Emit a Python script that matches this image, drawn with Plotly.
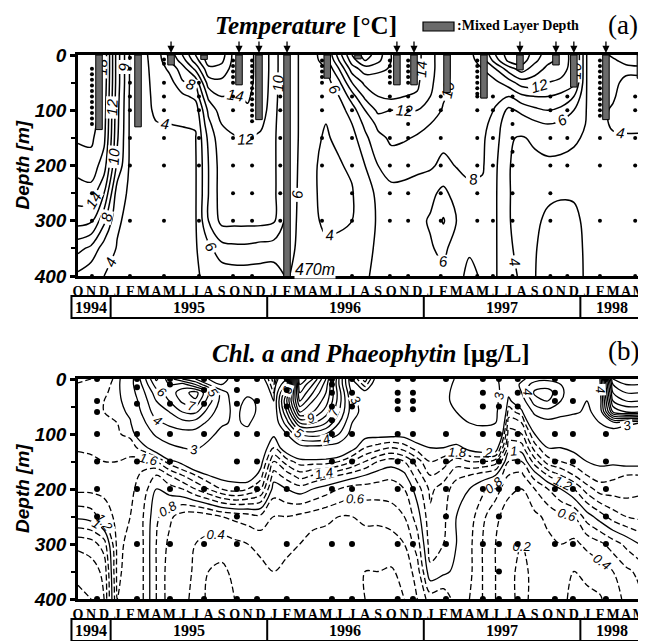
import plotly.graph_objects as go
import numpy as np

# ---------------- calendar axis (index 0 = Oct 1994) ----------------
month_letters = ["O", "N", "D"] + ["J", "F", "M", "A", "M", "J", "J", "A", "S", "O", "N", "D"] * 3 + ["J", "F", "M", "A", "M"]
month_index = list(range(len(month_letters)))
year_labels = ["1994", "1995", "1996", "1997", "1998"]
year_edges = [-0.5, 2.5, 14.5, 26.5, 38.5, 43.3]
depth_ticks = [0, 100, 200, 300, 400]
depth_minor = [50, 150, 250, 350]

# ---------------- (a) temperature [deg C], columns = months, rows = depth_T ----------------
depth_T = [0, 10, 25, 50, 75, 100, 125, 150, 200, 250, 300, 350, 400]
temp_1994 = [
    [20, 20, 20, 20, 19.8, 19.6, 19.2, 18.3, 16.8, 15, 12.8, 8.6, 5.5],
    [19.6, 19.6, 19.6, 19.5, 19.3, 19, 18.8, 18.4, 17.2, 15.2, 12.4, 7.5, 4.5],
    [17.6, 17.6, 17.6, 17.4, 17.2, 17, 16.8, 16.5, 15, 12, 8.5, 5, 4],
]
temp_1995 = [
    [9, 9, 9, 9, 8.8, 8.6, 8.5, 8.3, 7.5, 5, 4.2, 3.9, 3.8],
    [3.7, 3.7, 3.7, 3.7, 3.6, 3.6, 3.6, 3.6, 3.6, 3.6, 3.6, 3.6, 3.6],
    [3.7, 3.7, 3.7, 3.6, 3.6, 3.6, 3.5, 3.5, 3.5, 3.5, 3.5, 3.5, 3.5],
    [4.6, 4.5, 4.4, 4.4, 4.3, 4.2, 3.95, 3.8, 3.6, 3.6, 3.6, 3.6, 3.6],
    [8.6, 8, 6.5, 5, 4.6, 4.3, 4, 3.8, 3.6, 3.6, 3.6, 3.6, 3.6],
    [12, 11, 9, 7.8, 5.5, 4.6, 4.05, 3.8, 3.7, 3.7, 3.7, 3.7, 3.7],
    [16, 15, 12.5, 8.5, 6.5, 4.8, 4.1, 3.9, 3.8, 3.8, 3.8, 3.8, 3.8],
    [19.5, 19, 17.5, 15, 12.5, 10.5, 9.5, 8.5, 8, 8, 8, 5.5, 4.4],
    [19, 18.5, 17.2, 15.5, 14, 13, 12, 11.5, 11, 11, 10.6, 7.2, 4.8],
    [15.2, 15.2, 15.1, 15, 13.8, 13, 12.4, 11.9, 11, 11, 10.6, 7.5, 5],
    [14.6, 14.6, 14.6, 14.5, 14.2, 13.8, 13, 12.1, 11, 11, 10.6, 7.5, 5],
    [13.3, 13.3, 13.3, 13.3, 13.2, 13, 12.4, 11.6, 11, 11, 10.6, 7.2, 5],
]
temp_1996 = [
    [11.2, 11.2, 11.2, 11.1, 11, 10.8, 10.6, 10.5, 10.5, 10.5, 10.3, 7, 5],
    [7.6, 7.6, 7.6, 7.6, 7.6, 7.6, 7.6, 7.5, 7.5, 7.5, 7.4, 7, 6.2],
    [5.8, 5.8, 5.8, 5.8, 5.8, 5.8, 5.8, 5.8, 5.7, 5.6, 5.5, 5.4, 5.3],
    [5.2, 5.2, 5.1, 5, 4.8, 4.6, 4.4, 4.2, 4.1, 4.1, 4.2, 4.5, 5],
    [7.5, 7, 6, 5, 4.5, 4.2, 4, 3.9, 3.8, 3.8, 3.8, 4.2, 4.8],
    [13, 12, 10, 7.5, 6, 5, 4.5, 4.2, 3.9, 3.7, 3.8, 4.3, 4.9],
    [18, 17, 15, 12, 9, 7, 6, 5.2, 4.2, 3.9, 4, 4.4, 5],
    [21, 20, 17, 14.5, 12.5, 10, 8.5, 7.5, 6, 5, 5.2, 5.5, 5.8],
    [19, 18.5, 16.5, 14.8, 14, 12.5, 10.5, 9.5, 8, 6.5, 6.2, 6.3, 6.4],
    [16, 16, 15.8, 15.5, 14.5, 12, 10.8, 10.3, 9.2, 7.2, 6.8, 6.7, 6.6],
    [15.5, 15.5, 15.5, 15.3, 14, 12, 10.8, 10.2, 8.8, 7.3, 6.8, 6.7, 6.6],
    [14.5, 14.5, 14.5, 14.3, 13.8, 12, 10.6, 9.8, 8.5, 7, 6.5, 6.5, 6.5],
]
temp_1997 = [
    [12.8, 12.8, 12.8, 12.5, 12, 11, 10, 9.3, 8.3, 6.5, 5.8, 6.2, 6.4],
    [10.5, 10.5, 10.5, 10.4, 10.2, 9.8, 9.2, 8.6, 7.5, 5.5, 3.8, 5.5, 6.5],
    [9.5, 9.5, 9.5, 9.5, 9.3, 9, 8.8, 8.6, 8.1, 6.8, 6, 7, 7.5],
    [9.2, 9.2, 9.2, 9.2, 9.1, 9, 8.9, 8.8, 8.4, 7.6, 7.2, 7.8, 8.4],
    [12, 11, 10, 9.5, 9.2, 9, 8.7, 8.3, 8.2, 7.6, 7.3, 7.5, 7.8],
    [16, 15, 12, 9.5, 8.5, 7.8, 7, 6.8, 6.3, 6.2, 6.2, 6.2, 6.2],
    [19, 18.5, 15, 11, 8, 5.5, 4.6, 4.1, 4.05, 4.05, 4.05, 4.1, 4.2],
    [19.5, 19, 17, 13, 9.5, 6.5, 4.8, 3.9, 3.7, 3.7, 3.7, 3.8, 3.9],
    [17, 16.5, 15, 13, 10, 7.5, 5.5, 4.2, 3.7, 3.7, 3.8, 3.9, 3.95],
    [15, 14.5, 13.5, 12, 10, 8, 6, 4.4, 3.8, 3.8, 4.2, 4.5, 4.6],
    [13.5, 13.5, 13, 11.5, 9.5, 7.5, 5.5, 4.3, 3.8, 3.9, 4.3, 4.6, 4.7],
    [11, 11, 11, 10.5, 8, 6, 4.8, 4.1, 3.8, 3.9, 4.2, 4.4, 4.5],
]
temp_1998 = [
    [3.9, 3.9, 3.9, 3.9, 3.9, 3.9, 3.9, 3.9, 3.8, 3.8, 3.8, 3.8, 3.8],
    [3.9, 3.9, 3.9, 3.9, 3.9, 3.9, 3.9, 3.9, 3.9, 3.9, 3.9, 3.9, 3.9],
    [4.05, 3.95, 3.9, 3.9, 3.95, 4.05, 4.05, 3.95, 3.9, 3.9, 3.9, 3.9, 3.9],
    [4.3, 4.1, 3.9, 4.1, 4.2, 4.2, 4.1, 3.95, 3.9, 3.9, 3.9, 3.9, 3.9],
    [4.4, 4.2, 3.9, 4.1, 4.3, 4.3, 4.1, 3.95, 3.9, 3.9, 3.9, 3.9, 3.9],
]

# ---------------- (b) Chl a + phaeophytin [ug/L] ----------------
depth_C = [0, 10, 25, 40, 60, 80, 100, 125, 150, 175, 200, 250, 300, 350, 400]
chl_1994 = [
    [1.55, 1.62, 1.7, 1.72, 1.72, 1.7, 1.68, 1.62, 1.55, 1.5, 1.45, 1.05, 0.45, 0.25, 0.15],
    [1.6, 1.7, 1.75, 1.78, 1.78, 1.75, 1.72, 1.65, 1.55, 1.5, 1.45, 1.1, 0.5, 0.3, 0.2],
    [1.7, 1.75, 1.78, 1.8, 1.8, 1.78, 1.75, 1.68, 1.6, 1.5, 1.45, 1.3, 0.7, 0.45, 0.4],
]
chl_1995 = [
    [1.85, 1.85, 1.85, 1.85, 1.82, 1.8, 1.78, 1.7, 1.6, 1.5, 1.45, 1.45, 1.45, 1.45, 1.4],
    [2.5, 2.6, 2.5, 2.3, 2.1, 1.95, 1.85, 1.7, 1.55, 1.5, 1.45, 1.4, 1.35, 1.3, 1.3],
    [4.5, 4.2, 3.8, 3.5, 3.2, 2.8, 2.3, 1.9, 1.5, 1.35, 1.3, 1.2, 1.2, 1.2, 1.2],
    [7.2, 6.5, 5.5, 5, 4.5, 3.8, 3.2, 2.2, 1.6, 1.2, 1.0, 0.85, 0.8, 0.8, 0.8],
    [5.5, 6, 6.5, 6, 5, 4.2, 3.5, 2.8, 1.9, 1.4, 1.1, 0.65, 0.55, 0.5, 0.5],
    [4, 6.5, 7.5, 7.2, 6, 4.6, 3.6, 3, 2.1, 1.6, 1.2, 0.5, 0.45, 0.45, 0.45],
    [3, 5, 8.5, 7.8, 6.2, 4.5, 3.6, 3.1, 2.4, 1.8, 1.4, 0.45, 0.4, 0.38, 0.35],
    [2, 3, 6, 5.5, 4.5, 3.8, 3.2, 2.8, 2.4, 2, 1.6, 0.5, 0.35, 0.2, 0.15],
    [1.8, 2, 3.5, 3.6, 3.4, 3.1, 2.8, 2.5, 2.3, 2.1, 1.8, 0.6, 0.3, 0.15, 0.1],
    [2.2, 2.3, 2.4, 2.6, 2.8, 2.9, 2.7, 2.5, 2.3, 2.1, 1.9, 0.65, 0.35, 0.25, 0.2],
    [2.3, 2.5, 2.8, 3.2, 3.3, 3.1, 2.8, 2.5, 2.3, 2.2, 1.8, 0.7, 0.4, 0.3, 0.25],
    [2.2, 2.4, 2.6, 2.8, 2.8, 2.6, 2.4, 2.2, 2.1, 1.9, 1.6, 0.75, 0.45, 0.35, 0.3],
]
chl_1996 = [
    [1.5, 1.6, 1.8, 2, 2.1, 2.1, 2.05, 1.8, 1.4, 1.1, 0.9, 0.6, 0.45, 0.4, 0.4],
    [3, 4, 6, 7, 6, 4.5, 3, 2.2, 1.7, 1.3, 1.0, 0.6, 0.45, 0.35, 0.3],
    [16, 15, 14, 13, 11, 8, 5, 2.5, 1.9, 1.5, 1.1, 0.55, 0.4, 0.3, 0.3],
    [14, 13, 12, 11, 10, 8, 5.5, 2.6, 1.9, 1.4, 1.0, 0.5, 0.3, 0.25, 0.25],
    [11, 10.5, 10, 9.5, 8.5, 7, 5, 2.5, 1.9, 1.3, 0.9, 0.45, 0.3, 0.25, 0.25],
    [6, 6, 6.5, 6.5, 6, 5, 4, 2.4, 1.8, 1.2, 0.8, 0.4, 0.3, 0.25, 0.25],
    [2, 2.2, 2.8, 3.3, 3.4, 3, 2.6, 2.1, 1.6, 1.1, 0.7, 0.4, 0.3, 0.25, 0.25],
    [1.5, 1.7, 2.1, 2.4, 2.6, 2.4, 2.1, 1.8, 1.4, 1, 0.7, 0.45, 0.3, 0.2, 0.2],
    [2.2, 2.3, 2.5, 2.5, 2.5, 2.4, 2.1, 1.7, 1.2, 0.9, 0.7, 0.45, 0.3, 0.2, 0.18],
    [2.3, 2.4, 2.5, 2.5, 2.5, 2.4, 2.1, 1.6, 1.1, 0.85, 0.7, 0.5, 0.3, 0.18, 0.15],
    [2.3, 2.4, 2.5, 2.5, 2.5, 2.4, 2.1, 1.7, 1.2, 0.95, 0.8, 0.6, 0.4, 0.25, 0.2],
    [2.3, 2.4, 2.5, 2.5, 2.5, 2.4, 2.2, 1.9, 1.5, 1.3, 1.1, 0.9, 0.7, 0.5, 0.4],
]
chl_1997 = [
    [2.4, 2.4, 2.5, 2.5, 2.4, 2.3, 2.2, 2, 1.8, 1.6, 1.45, 1.35, 1.3, 1.15, 0.7],
    [2.5, 2.6, 2.8, 2.9, 2.7, 2.4, 2.2, 2, 1.7, 1.5, 1.3, 1.25, 1.2, 1.05, 0.65],
    [3.1, 3.2, 3.2, 3.1, 3, 2.7, 2.3, 1.9, 1.5, 1.25, 1.1, 1.0, 1.0, 0.95, 0.9],
    [3.3, 3.4, 3.4, 3.3, 3.2, 3, 2.6, 2.1, 1.6, 1.2, 1.0, 0.9, 0.85, 0.85, 0.8],
    [3.3, 3.4, 3.5, 3.4, 3.3, 3.1, 2.7, 2.2, 1.6, 1.1, 0.85, 0.65, 0.6, 0.6, 0.6],
    [3.2, 3.3, 3.4, 3.3, 3.2, 3.0, 2.8, 2.2, 1.5, 1.0, 0.7, 0.45, 0.4, 0.4, 0.4],
    [2.2, 2.2, 2.1, 1.9, 1.7, 1.5, 1.3, 1.1, 0.8, 0.6, 0.45, 0.3, 0.25, 0.22, 0.22],
    [2.8, 3.2, 3, 2.4, 1.9, 1.6, 1.4, 1.1, 0.8, 0.55, 0.4, 0.25, 0.2, 0.18, 0.18],
    [3.5, 4.5, 5.2, 4.5, 3.2, 2.4, 2, 1.7, 1.3, 0.9, 0.6, 0.35, 0.25, 0.22, 0.22],
    [3.8, 4.5, 5.5, 5, 3.6, 2.7, 2.2, 2, 1.7, 1.2, 0.8, 0.45, 0.35, 0.3, 0.3],
    [3.5, 4, 4.2, 4, 3.3, 2.6, 2.2, 2.0, 1.8, 1.4, 1.0, 0.55, 0.4, 0.3, 0.25],
    [3.2, 3.3, 3.4, 3.3, 3.1, 2.6, 2.2, 2.05, 1.9, 1.6, 1.2, 0.6, 0.35, 0.2, 0.15],
]
chl_1998 = [
    [3, 3.1, 3.1, 3, 2.9, 2.6, 2.3, 2.1, 2.0, 1.8, 1.5, 0.9, 0.45, 0.25, 0.15],
    [4, 3.8, 3.6, 3.4, 3.2, 3, 2.7, 2.2, 2.05, 1.9, 1.7, 1.1, 0.55, 0.3, 0.18],
    [14, 13, 12, 11, 9, 3.5, 2.5, 2.2, 2.05, 1.85, 1.7, 1.3, 0.7, 0.4, 0.3],
    [15, 14, 13, 12, 10, 3.2, 2.4, 2.2, 2.1, 1.8, 1.7, 1.4, 0.85, 0.55, 0.45],
    [15, 14, 13, 12, 10, 3, 2.4, 2.2, 2.1, 1.8, 1.65, 1.45, 1.0, 0.65, 0.55],
]

# ---------------- mixed layer depth bars and sampling arrows ----------------
mld_month = [1.61, 4.6, 7.13, 9.66, 12.34, 13.87, 16.02, 19.1, 21.46, 24.44, 25.75, 28.28, 31.11, 33.87, 36.63, 38.0, 40.46, 43.1]
mld_depth = [135, 130, 18, 8, 54, 117, 470, 42, 7, 54, 54, 68, 78, 27, 18, 58, 117, 42]
arrow_month = [7.13, 12.34, 13.87, 16.02, 24.44, 25.75, 33.87, 36.63, 38.0, 40.46]

# ---------------- sampling points ----------------
dotsA_month = [1.07, 3.98, 6.59, 9.27, 11.88, 13.34, 15.5, 18.7, 21.0, 23.9, 25.3, 27.8, 30.6, 31.8, 33.3, 36.2, 37.5, 40.0, 42.7]
dotsA_depth = [
    [25, 35, 45, 55, 65, 75, 85, 95, 105, 115, 125, 250, 300, 400],
    [5, 25, 50, 75, 100, 150, 200, 300, 400],
    [8, 16, 50, 75, 100, 150, 200, 300, 400],
    [50, 75, 100, 150, 200, 300, 400],
    [10, 20, 30, 40, 50, 75, 100, 150, 200, 250, 300, 400],
    [10, 20, 30, 40, 50, 60, 70, 80, 90, 100, 110, 120, 150, 200, 250, 300, 400],
    [75, 100, 150, 200, 250, 300],
    [10, 20, 30, 40, 50, 75, 100, 150, 200, 300, 400],
    [75, 100, 150, 200, 250, 300, 400],
    [10, 20, 30, 40, 50, 75, 100, 150, 200, 250, 300, 400],
    [10, 20, 30, 40, 50, 75, 100, 125, 150, 200, 250, 300, 400],
    [75, 100, 150, 200, 250, 300, 400],
    [10, 20, 30, 40, 50, 60, 70, 75, 100, 150, 200, 250, 300, 400],
    [75, 100, 150, 200, 300, 400],
    [75, 100, 125, 150, 175, 200, 250, 300, 400],
    [75, 100, 150, 200, 250, 300, 400],
    [75, 100, 150, 200, 400],
    [10, 20, 30, 40, 50, 60, 70, 80, 90, 100, 110, 150, 200, 300, 400],
    [75, 100, 150, 200, 300, 400],
]
dotsB_month = [1.46, 4.52, 7.05, 9.66, 12.18, 13.72, 16.0, 19.46, 21.0, 24.5, 25.67, 28.2, 31.03, 32.26, 33.7, 36.55, 37.93, 40.46, 43.2]
dotsB_depth = [
    [0, 40, 60, 100, 150, 200, 250, 400],
    [0, 15, 45, 100, 150, 200, 300, 400],
    [0, 10, 45, 100, 150, 200, 300, 400],
    [0, 20, 45, 100, 200, 300, 400],
    [0, 20, 45, 100, 150, 200, 250, 300, 400],
    [0, 40, 100, 150, 200, 400],
    [0, 20, 50, 100, 200, 300, 400],
    [0, 10, 25, 50, 75, 100, 150, 200, 300, 400],
    [0, 25, 50, 100, 150, 200, 300, 400],
    [0, 25, 40, 55, 100, 150, 200, 300, 400],
    [0, 25, 40, 55, 100, 150, 200, 300, 400],
    [0, 100, 150, 200, 250, 300, 400],
    [0, 25, 50, 100, 150, 200, 300, 400],
    [0, 50, 100, 150, 200, 250, 300, 350, 400],
    [0, 25, 50, 100, 150, 200, 300, 400],
    [0, 25, 40, 100, 150, 200, 300, 400],
    [0, 40, 100, 150, 200, 300, 400],
    [0, 100, 150, 200, 250, 300, 400],
    [0, 40, 60, 100, 150, 200, 300, 400],
]

# ================= build =================
zT = np.array(temp_1994 + temp_1995 + temp_1996 + temp_1997 + temp_1998).T
zC = np.array(chl_1994 + chl_1995 + chl_1996 + chl_1997 + chl_1998).T

# The page body has an 8 px margin, so the figure is placed 8 px right/down.
OFF = 8
W, H = 646 - OFF, 641 - OFF


def px(pix):
    return (pix - OFF) / W


def py(pix):
    return 1 - (pix - OFF) / H


X0, X1 = px(78), px(643)
XR = [0, 43.3]
A_TOP, A_BOT = 55, 276
B_TOP, B_BOT = 379, 599


def xp(m):
    return X0 + (m - XR[0]) / (XR[1] - XR[0]) * (X1 - X0)


SERIF = "Liberation Serif"
SANS = "Liberation Sans"

fig = go.Figure()

# temperature contours
fig.add_trace(go.Contour(
    x=month_index, y=depth_T, z=zT, xaxis="x", yaxis="y",
    contours=dict(start=4, end=20, size=2, coloring="none", showlabels=True,
                  labelformat=".0f",
                  labelfont=dict(family=SANS, size=15, color="black", style="italic")),
    line=dict(color="black", width=1.5, smoothing=1),
    showscale=False, hoverinfo="skip"))

# mixed layer depth bars
fig.add_trace(go.Bar(
    x=mld_month, y=mld_depth, width=0.5, xaxis="x", yaxis="y",
    marker=dict(color="#6b6b6b", line=dict(color="black", width=1)),
    hoverinfo="skip"))

# sample dots (a)
ax_x = [m for m, ds in zip(dotsA_month, dotsA_depth) for _ in ds]
ax_y = [d for ds in dotsA_depth for d in ds]
fig.add_trace(go.Scatter(x=ax_x, y=ax_y, mode="markers", xaxis="x", yaxis="y",
                         marker=dict(color="black", size=4), cliponaxis=False, hoverinfo="skip"))

# chlorophyll contours
chl_sets = [
    (0.2, 0.8, 0.2, "6px,3px", ".1f"),
    (1.0, 1.0, 1.0, "solid", ".0f"),
    (1.2, 1.8, 0.2, "6px,3px", ".1f"),
    (2, 15, 1, "solid", ".0f"),
]
for s, e, sz, dash, fmt in chl_sets:
    fig.add_trace(go.Contour(
        x=month_index, y=depth_C, z=zC, xaxis="x2", yaxis="y2",
        contours=dict(start=s, end=e, size=sz, coloring="none", showlabels=True,
                      labelformat=fmt,
                      labelfont=dict(family=SANS, size=13, color="black", style="italic")),
        line=dict(color="black", width=1.3, dash=dash, smoothing=1),
        showscale=False, hoverinfo="skip"))

bx_x = [m for m, ds in zip(dotsB_month, dotsB_depth) for _ in ds]
bx_y = [d for ds in dotsB_depth for d in ds]
fig.add_trace(go.Scatter(x=bx_x, y=bx_y, mode="markers", xaxis="x2", yaxis="y2",
                         marker=dict(color="black", size=6), cliponaxis=False, hoverinfo="skip"))

xcommon = dict(range=XR, tickmode="array", tickvals=month_index, ticktext=month_letters,
               tickfont=dict(family=SERIF, size=14, color="black", weight="bold"),
               tickangle=0, automargin=False,
               ticks="", showline=True, linewidth=2.5, linecolor="black", mirror=True,
               showgrid=False, zeroline=False, domain=[X0, X1])
ycommon = dict(range=[400, 0], tickmode="array", tickvals=depth_ticks, automargin=False,
               tickfont=dict(family=SANS, size=19, color="black", weight="bold", style="italic"),
               ticks="outside", ticklen=5, tickwidth=2.5, tickcolor="black",
               minor=dict(tickvals=depth_minor, ticks="outside", ticklen=4, tickwidth=2, tickcolor="black"),
               showline=True, linewidth=2.5, linecolor="black", mirror=True,
               showgrid=False, zeroline=False)

fig.update_layout(
    width=W, height=H, margin=dict(l=0, r=0, t=0, b=0, autoexpand=False),
    paper_bgcolor="white", plot_bgcolor="white", showlegend=False,
    xaxis=dict(**xcommon, anchor="y"),
    yaxis=dict(**ycommon, anchor="x", domain=[py(A_BOT), py(A_TOP)]),
    xaxis2=dict(**xcommon, anchor="y2"),
    yaxis2=dict(**ycommon, anchor="x2", domain=[py(B_BOT), py(B_TOP)]),
)

ann = []
shapes = []

# arrows above panel (a)
for m in arrow_month:
    ann.append(dict(x=m, y=0, xref="x", yref="y", text="", showarrow=True,
                    ax=0, ay=-15, arrowhead=2, arrowsize=1.1, arrowwidth=1.3,
                    arrowcolor="black", standoff=2))


def label(**kw):
    kw.setdefault("showarrow", False)
    kw.setdefault("xanchor", "center")
    kw.setdefault("yanchor", "middle")
    ann.append(kw)


# special labels tied to bars
ital = dict(family=SANS, size=15, color="black")
label(x=mld_month[3] + 0.45, y=-3, xref="x", yref="y", text="<i>&gt;18</i>",
      xanchor="left", font=ital, bgcolor="white", borderpad=0)
label(x=mld_month[8] + 0.0, y=-3, xref="x", yref="y", text="<i>&gt;20</i>",
      xanchor="left", font=ital, bgcolor="white", borderpad=0)
label(x=mld_month[13] - 0.45, y=-3, xref="x", yref="y", text="<i>&gt;18</i>",
      xanchor="left", font=ital, borderpad=0)
label(x=mld_month[6] + 0.55, y=388, xref="x", yref="y", text="<i>%dm</i>" % mld_depth[6],
      xanchor="left", font=dict(family=SANS, size=16, color="black"), bgcolor="white", borderpad=0)

# titles
label(x=px(306), y=py(26), xref="paper", yref="paper",
      text="<b><i>Temperature</i> [°C]</b>", font=dict(family=SERIF, size=25, color="black"))
label(x=px(623), y=py(25), xref="paper", yref="paper", text="(a)",
      font=dict(family=SERIF, size=27, color="black"))
shapes.append(dict(type="rect", xref="paper", yref="paper", x0=px(423), x1=px(454),
                   y0=py(31), y1=py(22), fillcolor="#6b6b6b", line=dict(color="black", width=1.2)))
label(x=px(455), y=py(26), xref="paper", yref="paper", xanchor="left",
      text="<b>:Mixed Layer Depth</b>", font=dict(family=SERIF, size=14, color="black"))

label(x=px(371), y=py(353), xref="paper", yref="paper",
      text="<b><i>Chl. a and Phaeophytin</i> [μg/L]</b>", font=dict(family=SERIF, size=25, color="black"))
label(x=px(623), y=py(351), xref="paper", yref="paper", text="(b)",
      font=dict(family=SERIF, size=27, color="black"))

# y-axis titles
for top, bot in [(A_TOP, A_BOT), (B_TOP, B_BOT)]:
    label(x=px(22), y=py((top + bot) / 2), xref="paper", yref="paper",
          text="<b><i>Depth [m]</i></b>", textangle=-90, font=dict(family=SANS, size=19, color="black"))

# year boxes
for ytop, ybot in [(296, 318), (619, 641)]:
    shapes.append(dict(type="rect", xref="paper", yref="paper",
                       x0=xp(year_edges[0]), x1=xp(year_edges[-1]), y0=py(ybot), y1=py(ytop),
                       line=dict(color="black", width=2)))
    for e in year_edges[1:-1]:
        shapes.append(dict(type="line", xref="paper", yref="paper", x0=xp(e), x1=xp(e),
                           y0=py(ybot), y1=py(ytop), line=dict(color="black", width=2)))
    for i, lab in enumerate(year_labels):
        label(x=xp((year_edges[i] + year_edges[i + 1]) / 2), y=py((ytop + ybot) / 2),
              xref="paper", yref="paper", text="<b>%s</b>" % lab,
              font=dict(family=SERIF, size=16, color="black"))

fig.update_layout(annotations=ann, shapes=shapes)
fig.write_html("out.html")
